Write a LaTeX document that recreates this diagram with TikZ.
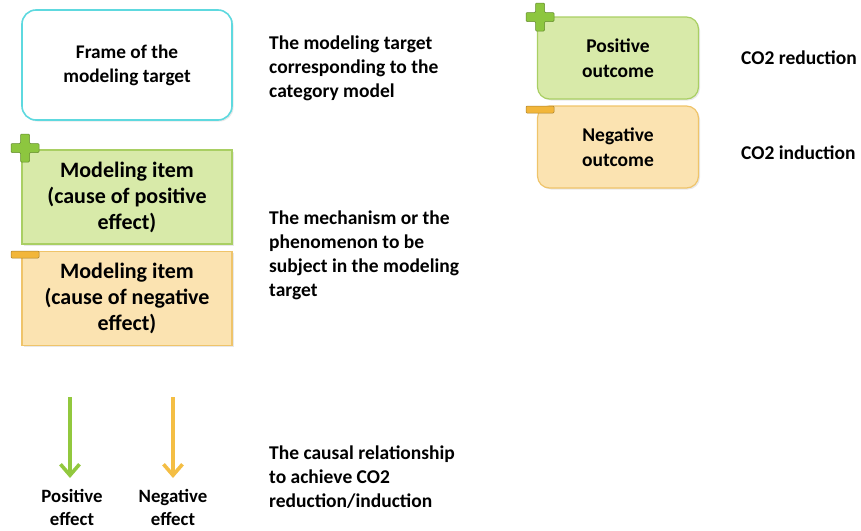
\documentclass[tikz,border=0pt]{standalone}
\usepackage{fontspec}
\setmainfont{Carlito}
\usetikzlibrary{arrows.meta,shadows}
\definecolor{frameC}{HTML}{5ED9DF}
\definecolor{gFill}{HTML}{D8EAA9}
\definecolor{gLine}{HTML}{A9CF63}
\definecolor{oFill}{HTML}{FBE3B1}
\definecolor{oLine}{HTML}{EFC46A}
\definecolor{gArrow}{HTML}{92C83E}
\definecolor{oArrow}{HTML}{F4BE44}
\definecolor{gPlus}{HTML}{8DC63F}
\definecolor{oMinus}{HTML}{F2B63A}
\tikzset{
  boxbase/.style={inner sep=0pt, align=center, font=\bfseries, text=black,
    drop shadow={shadow xshift=1.5pt, shadow yshift=-1.5pt, opacity=0.18}},
  framebox/.style={boxbase, draw=frameC, line width=1.6pt, fill=white, rounded corners=14pt,
    minimum width=210pt, minimum height=110pt, font=\bfseries\fontsize{19.3}{24}\selectfont},
  itembox/.style={boxbase, line width=1.2pt, minimum width=210pt, minimum height=94pt,
    font=\bfseries\fontsize{22}{26}\selectfont},
  outbox/.style={boxbase, line width=1.2pt, rounded corners=12pt, minimum width=161pt, minimum height=82pt,
    font=\bfseries\fontsize{19.5}{25}\selectfont},
  posbox/.style={fill=gFill, draw=gLine},
  negbox/.style={fill=oFill, draw=oLine},
  desc/.style={anchor=west, align=left, inner sep=0pt, font=\bfseries\fontsize{19.5}{24}\selectfont},
  lbl/.style={align=center, inner sep=0pt, font=\bfseries\fontsize{18.8}{23}\selectfont},
  effarrow/.style={line width=4pt, -{Straight Barb[length=11pt,width=19pt,line width=3.6pt]}},
  plusmark/.style={fill=gPlus, draw=gPlus!70!black, line width=0.5pt, rounded corners=1pt},
  minusmark/.style={fill=oMinus, draw=oMinus!70!black, line width=0.5pt, rounded corners=1pt}
}
\newcommand{\plusat}[2]{%
  \path[plusmark] (#1-4.5,#2-14) -- (#1+4.5,#2-14) -- (#1+4.5,#2-4.5) -- (#1+14,#2-4.5)
   -- (#1+14,#2+4.5) -- (#1+4.5,#2+4.5) -- (#1+4.5,#2+14) -- (#1-4.5,#2+14) -- (#1-4.5,#2+4.5)
   -- (#1-14,#2+4.5) -- (#1-14,#2-4.5) -- (#1-4.5,#2-4.5) -- cycle;}
\newcommand{\minusat}[2]{%
  \path[minusmark] (#1-14,#2-3.5) rectangle (#1+14,#2+3.5);}
\begin{document}
\begin{tikzpicture}[x=1pt,y=-1pt]
\useasboundingbox (0,0) rectangle (861,530);
% left column
\node[framebox] (frame) at (127,65) {Frame of the\\modeling target};
\node[itembox,posbox] (itempos) at (127,197) {Modeling item\\(cause of positive\\effect)};
\node[itembox,negbox] (itemneg) at (127,298.5) {Modeling item\\(cause of negative\\effect)};
\plusat{25}{148}
\minusat{25}{254.5}
% arrows
\coordinate (ga1) at (70,397);
\coordinate (ga2) at (70,478);
\coordinate (oa1) at (173,397);
\coordinate (oa2) at (173,478);
\draw[effarrow, gArrow] (ga1) -- (ga2);
\draw[effarrow, oArrow] (oa1) -- (oa2);
\node[lbl] (posEff) at (72,507) {Positive\\effect};
\node[lbl] (negEff) at (173,507) {Negative\\effect};
% descriptions
\node[desc] (d1) at (269,68) {The modeling target\\corresponding to the\\category model};
\node[desc] (d2) at (269,255) {The mechanism or the\\phenomenon to be\\subject in the modeling\\target};
\node[desc] (d3) at (269,477) {The causal relationship\\to achieve CO2\\reduction/induction};
% right column
\node[outbox,posbox] (outpos) at (618,58) {Positive\\outcome};
\node[outbox,negbox] (outneg) at (618,147) {Negative\\outcome};
\plusat{540}{17}
\minusat{540}{109.5}
\node[lbl, anchor=west, font=\bfseries\fontsize{19.5}{24}\selectfont] (co2r) at (741,58) {CO2 reduction};
\node[lbl, anchor=west, font=\bfseries\fontsize{19.5}{24}\selectfont] (co2i) at (741,153) {CO2 induction};
\end{tikzpicture}
\end{document}
